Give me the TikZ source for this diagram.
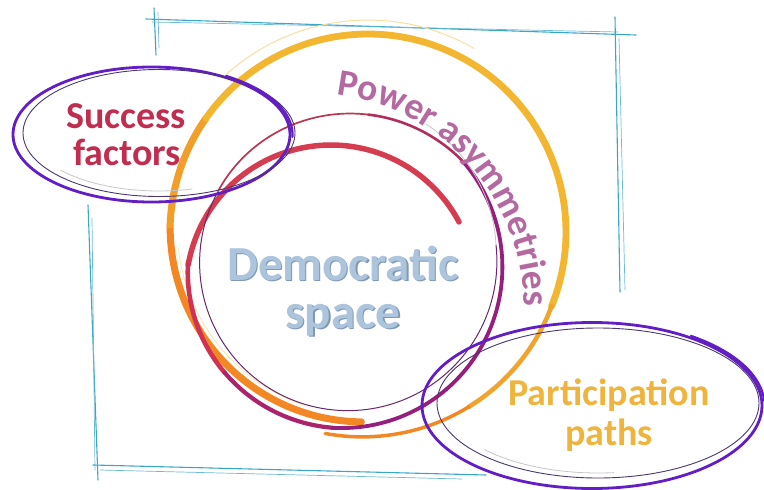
\documentclass[tikz,border=0pt]{standalone}
\usepackage{fontspec}
\setmainfont{Carlito}
\usetikzlibrary{decorations.text}
\definecolor{frameblue}{RGB}{58,166,200}
\definecolor{ygold}{RGB}{242,182,48}
\definecolor{orng}{RGB}{242,135,35}
\definecolor{redc}{RGB}{214,60,80}
\definecolor{crim}{RGB}{196,40,90}
\definecolor{magc}{RGB}{150,30,125}
\definecolor{thinred}{RGB}{185,55,80}
\definecolor{thinpur}{RGB}{105,40,105}
\definecolor{ellpur}{RGB}{98,30,196}
\definecolor{ellthin}{RGB}{75,55,110}
\definecolor{succc}{RGB}{192,45,78}
\definecolor{powc}{RGB}{180,105,160}
\definecolor{partc}{RGB}{238,180,60}
\definecolor{demc}{RGB}{172,196,220}
\definecolor{demd}{RGB}{128,152,180}
\begin{document}
\begin{tikzpicture}[x=1pt,y=-1pt,line cap=round,line join=round,
  framel/.style={draw=frameblue,line width=1.1pt},
  framelb/.style={draw=frameblue!75,line width=0.7pt},
  ellthick/.style={draw=ellpur,line width=2.8pt},
  ellthinl/.style={draw=ellthin,line width=0.9pt},
  ghost/.style={draw=gray!45,line width=0.8pt},
  lab/.style={inner sep=0pt,anchor=base,font=\bfseries\fontsize{38}{40}\selectfont},
  demlab/.style={inner sep=0pt,anchor=base,font=\bfseries\fontsize{49}{50}\selectfont}]
\useasboundingbox (0,0) rectangle (764,490);
% ---------- hand-drawn frame ----------
\draw[framel] (146,19) -- (636,35);
\draw[framelb] (152,22) -- (618,32);
\draw[framel] (154,8) -- (156,55);
\draw[framelb] (158,12) -- (159,48);
\draw[framel] (615,17) -- (620,292);
\draw[framelb] (619,38) -- (625,290);
\draw[framel] (88,205) -- (98,480);
\draw[framelb] (92,218) -- (95,470);
\draw[framel] (93,465) -- (486,475);
\draw[framelb] (100,470) -- (462,479);
% ---------- big yellow / orange loop ----------
\draw[ygold!45,line width=1pt] plot[domain=228:300,samples=40] ({368+212*cos(\x)},{232+212*sin(\x)});
\draw[orng,line width=7pt] plot[domain=92:182,samples=60] ({368+(190+(\x-92)*0.089)*cos(\x)},{232+(190+(\x-92)*0.089)*sin(\x)});
\draw[ygold!40,line width=0.8pt] plot[domain=110:175,samples=40] ({368+(183+(\x-92)*0.089)*cos(\x)},{232+(183+(\x-92)*0.089)*sin(\x)});
\draw[orng!50!ygold,line width=7pt] plot[domain=182:215,samples=25] ({368+198*cos(\x)},{232+198*sin(\x)});
\draw[ygold,line width=6.8pt] plot[domain=215:382,samples=90] ({368+198*cos(\x)},{232+198*sin(\x)});
\draw[ygold!60!orng,line width=4.5pt] plot[domain=382:420,samples=25] ({368+(198+(\x-382)*0.1)*cos(\x)},{232+(198+(\x-382)*0.1)*sin(\x)});
\draw[orng,line width=3.5pt] plot[domain=420:462,samples=25] ({368+(198+(\x-382)*0.1)*cos(\x)},{232+(198+(\x-382)*0.1)*sin(\x)});
% ---------- red / magenta spiral ----------
\draw[redc,line width=5.5pt] plot[domain=-28:-170,samples=70] ({331+145*cos(\x)},{290+145*sin(\x)});
\draw[redc!55!crim,line width=4.6pt] plot[domain=-178:-222,samples=30] ({341+(153+(-178-\x)*0.0787)*cos(\x)},{268+(153+(-178-\x)*0.0787)*sin(\x)});
\draw[crim!45!magc,line width=4.2pt] plot[domain=-222:-267,samples=30] ({341+(153+(-178-\x)*0.0787)*cos(\x)},{268+(153+(-178-\x)*0.0787)*sin(\x)});
\draw[magc,line width=3.8pt] plot[domain=-267:-401,samples=70] ({341+(160+(-267-\x)*0.015)*cos(\x)},{268+(160+(-267-\x)*0.015)*sin(\x)});
\draw[thinred!70!magc,line width=2.6pt] plot[domain=-401:-440,samples=25] ({341+(162-(-401-\x)*0.159)*cos(\x)},{268+(162-(-401-\x)*0.159)*sin(\x)});
\draw[thinred,line width=1.7pt] plot[domain=-440:-508,samples=40] ({341+(162-(-401-\x)*0.159)*cos(\x)},{268+(162-(-401-\x)*0.159)*sin(\x)});
\draw[thinpur,line width=1pt] plot[domain=-151.5:-366.5,samples=100] ({347+(147+(-151.5-\x)*0.014)*cos(\x)},{262+(147+(-151.5-\x)*0.014)*sin(\x)});
\draw[ghost] plot[domain=-366.5:-420,samples=30] ({347+(150+(-366.5-\x)*0.168)*cos(\x)},{262+(150+(-366.5-\x)*0.168)*sin(\x)});
% ---------- Success factors ellipse ----------
\coordinate (se) at (151.5,134.5);
\draw[ellthick] (se) ellipse[x radius=138.5,y radius=67.5];
\draw[ellthinl] (159,133) ellipse[x radius=136,y radius=63.5];
\draw[ellpur,line width=2.2pt] plot[domain=-58:2,samples=30] ({151.5+141*cos(\x)},{134.5+69*sin(\x)});
\draw[ghost] plot[domain=75:140,samples=30] ({159+128*cos(\x)},{133+58*sin(\x)});
% ---------- Participation paths ellipse ----------
\coordinate (pe) at (592,405.5);
\draw[ellthick] (pe) ellipse[x radius=170,y radius=83];
\draw[ellthinl] (598,403) ellipse[x radius=161,y radius=75];
\draw[ellpur,line width=2.2pt] plot[domain=-55:-3,samples=30] ({592+172.5*cos(\x)},{405.5+85*sin(\x)});
\draw[ghost] plot[domain=84:138,samples=30] ({598+152*cos(\x)},{403+70*sin(\x)});
% ---------- texts ----------
\node[lab,text=succc] (succ1) at (126,128) {Success};
\node[lab,text=succc] (succ2) at (127,165) {factors};
\node[lab,text=partc] (part1) at (609,405) {Participation};
\node[lab,text=partc] (part2) at (609,445) {paths};
\node[demlab,text=demd] (dem1s) at (344.2,281.2) {Democratic};
\node[demlab,text=demd] (dem2s) at (344.2,329.2) {space};
\node[demlab,text=demc] (dem1) at (343,280) {Democratic};
\node[demlab,text=demc] (dem2) at (343,328) {space};
\path[decorate,decoration={text along path,text align=left,text color=powc,
  text={|\bfseries\fontsize{37.5}{40}\selectfont|Power asymmetries}}]
  plot[domain=-83:1,samples=90] ({310+214*cos(\x)},{307+214*sin(\x)});
\end{tikzpicture}
\end{document}
